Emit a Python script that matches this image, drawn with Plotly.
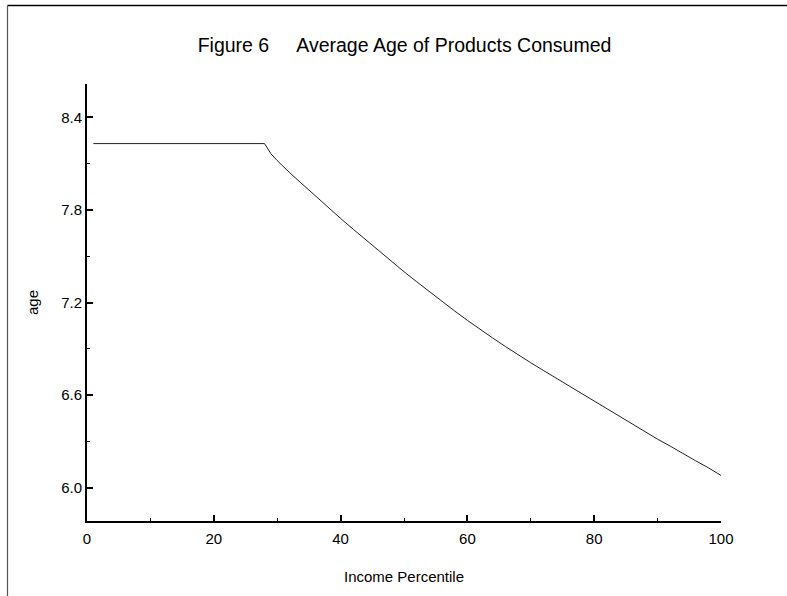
import plotly.graph_objects as go

# Average age of products consumed, by income percentile
income_pct = [1, 28, 29, 30, 32, 34, 36, 38, 40, 42, 44, 46, 48, 50, 52, 54, 56,
              58, 60, 62, 64, 66, 68, 70, 72, 74, 76, 78, 80, 82, 84, 86, 88,
              90, 92, 94, 96, 98, 100]
avg_age = [8.23, 8.23, 8.165, 8.12, 8.04, 7.965, 7.89, 7.815, 7.745, 7.675,
           7.605, 7.535, 7.465, 7.40, 7.335, 7.27, 7.205, 7.145, 7.085, 7.025,
           6.97, 6.915, 6.86, 6.81, 6.76, 6.71, 6.66, 6.61, 6.56, 6.51, 6.46,
           6.41, 6.36, 6.315, 6.27, 6.22, 6.175, 6.13, 6.08]

x_ticks = [0, 20, 40, 60, 80, 100]
y_ticks = [6.0, 6.6, 7.2, 7.8, 8.4]

W, H = 787, 596
ML, MR, MT, MB = 87, 66, 84, 75
PW, PH = W - ML - MR, H - MT - MB

FONT = "Liberation Sans, Arial, sans-serif"


def px_to_paper_x(px):
    return (px - ML) / PW


def px_to_paper_y(py):
    return (H - MB - py) / PH


fig = go.Figure()
fig.add_trace(go.Scatter(
    x=income_pct, y=avg_age, mode="lines",
    line=dict(color="#222222", width=1),
    hoverinfo="x+y", showlegend=False,
))

axis_common = dict(
    showgrid=False, zeroline=False,
    showline=True, linecolor="black", linewidth=2,
    ticks="inside", ticklen=6, tickwidth=1.5, tickcolor="black",
    tickfont=dict(family=FONT, size=15, color="black"),
)

fig.update_xaxes(
    **axis_common,
    range=[0, 100],
    tickmode="array", tickvals=x_ticks, ticktext=[str(v) for v in x_ticks],
    ticklabelstandoff=3,
    minor=dict(ticks="inside", ticklen=3, tickwidth=1, tickcolor="black",
               tick0=0, dtick=10),
    title=dict(text="Income Percentile", font=dict(family=FONT, size=15, color="black"),
               standoff=25),
)
fig.update_yaxes(
    **axis_common,
    range=[5.785, 8.616],
    tickmode="array", tickvals=y_ticks, ticktext=[f"{v:.1f}" for v in y_ticks],
    minor=dict(ticks="inside", ticklen=3, tickwidth=1, tickcolor="black",
               tick0=6.0, dtick=0.3),
    title=dict(text="age", font=dict(family=FONT, size=15, color="black"),
               standoff=19),
)

# page frame: top rule and left rule
fig.add_shape(type="line", xref="paper", yref="paper",
              x0=px_to_paper_x(7.5), x1=px_to_paper_x(W + 2),
              y0=px_to_paper_y(5.5), y1=px_to_paper_y(5.5),
              line=dict(color="black", width=1.5))
fig.add_shape(type="line", xref="paper", yref="paper",
              x0=px_to_paper_x(7.5), x1=px_to_paper_x(7.5),
              y0=px_to_paper_y(5.5), y1=px_to_paper_y(H + 2),
              line=dict(color="#555555", width=1.2))

fig.update_layout(
    width=W, height=H,
    margin=dict(l=ML, r=MR, t=MT, b=MB, pad=0),
    paper_bgcolor="white", plot_bgcolor="white",
    title=dict(text="Figure 6" + "\u00a0" * 5 + "Average Age of Products Consumed",
               x=px_to_paper_x(404.5), xref="paper", xanchor="center",
               y=1 - 45 / H, yanchor="middle",
               font=dict(family=FONT, size=19.5, color="black")),
    font=dict(family=FONT, color="black"),
)

fig.write_html("out.html")
